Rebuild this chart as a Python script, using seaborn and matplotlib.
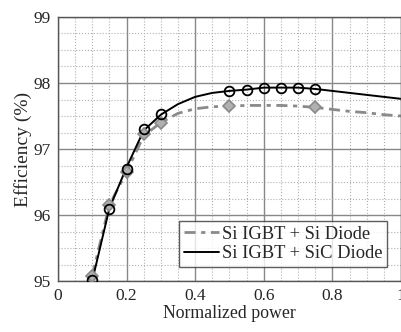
import numpy as np
import pandas as pd
import matplotlib
matplotlib.use('Agg')
import matplotlib.pyplot as plt
import seaborn as sns
from matplotlib.ticker import MultipleLocator

# curve shapes
curve_x   = [0.10, 0.15, 0.20, 0.25, 0.30, 0.35, 0.40, 0.45, 0.50, 0.55, 0.60, 0.65, 0.70, 0.75, 0.80, 0.85, 0.90, 0.95, 1.00]
si_curve  = [95.08, 96.15, 96.65, 97.20, 97.40, 97.54, 97.61, 97.64, 97.65, 97.66, 97.66, 97.66, 97.65, 97.63, 97.60, 97.57, 97.55, 97.52, 97.50]
sic_curve = [95.00, 96.10, 96.72, 97.28, 97.52, 97.68, 97.79, 97.85, 97.88, 97.90, 97.93, 97.93, 97.93, 97.91, 97.88, 97.85, 97.82, 97.79, 97.76]

# measured points (markers)
si_px  = [0.10, 0.15, 0.20, 0.25, 0.30, 0.50, 0.75]
si_py  = [95.08, 96.15, 96.65, 97.22, 97.40, 97.65, 97.63]
sic_px = [0.10, 0.15, 0.20, 0.25, 0.30, 0.50, 0.55, 0.60, 0.65, 0.70, 0.75]
sic_py = [95.02, 96.09, 96.70, 97.30, 97.53, 97.88, 97.90, 97.93, 97.93, 97.92, 97.91]

labels = ['Si IGBT + Si Diode', 'Si IGBT + SiC Diode']

sns.set_style('white')
plt.rcParams['font.family'] = ['Liberation Serif', 'DejaVu Serif']

fig = plt.figure(figsize=(4.02, 3.32), dpi=100)
ax = fig.add_axes([0.144, 0.1536, 0.8535, 0.7952])

sns.lineplot(x=curve_x, y=si_curve, ax=ax, color='#8a8a8a', linewidth=2.0,
             dashes=False, label=labels[0])
ax.lines[-1].set_dashes([4, 2, 1.5, 2])
sns.lineplot(x=curve_x, y=sic_curve, ax=ax, color='black', linewidth=1.4, label=labels[1])

ax.plot(si_px, si_py, linestyle='none', marker='D', markersize=6.5,
        markerfacecolor='#b0b0b0', markeredgecolor='#8a8a8a', markeredgewidth=1.2, zorder=4)
ax.plot(sic_px, sic_py, linestyle='none', marker='o', markersize=7,
        markerfacecolor='none', markeredgecolor='black', markeredgewidth=1.3, zorder=5)

ax.set_xlim(0, 1)
ax.set_ylim(95, 99)
ax.xaxis.set_minor_locator(MultipleLocator(0.05))
ax.yaxis.set_major_locator(MultipleLocator(1))
ax.yaxis.set_minor_locator(MultipleLocator(0.25))
ax.set_xticks([0, 0.2, 0.4, 0.6, 0.8, 1.0])
ax.set_xticklabels(['0', '0.2', '0.4', '0.6', '0.8', '1'])
ax.grid(which='major', color='#888888', linewidth=1.0, linestyle='-')
ax.grid(which='minor', color='#b0b0b0', linewidth=0.8, linestyle=':')
ax.set_axisbelow(True)
ax.tick_params(which='both', length=0, labelsize=12.5, pad=5)
for s in ax.spines.values():
    s.set_color('#555555')
    s.set_linewidth(1.0)

ax.set_xlabel('Normalized power', fontsize=12.8, labelpad=1)
ax.set_ylabel('Efficiency (%)', fontsize=14, labelpad=1)

leg = ax.legend(loc='lower right', bbox_to_anchor=(0.959, 0.053), fontsize=13.3,
                frameon=True, fancybox=False, handlelength=1.9, handletextpad=0.15,
                borderpad=0.25, labelspacing=0.15, borderaxespad=0)
leg.get_frame().set_edgecolor('#333333')
leg.get_frame().set_linewidth(1.0)

fig.savefig('out.png', dpi=100)
